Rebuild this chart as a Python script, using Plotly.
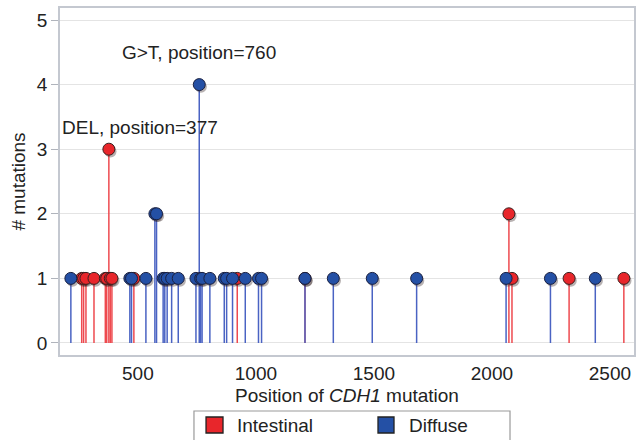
import plotly.graph_objects as go

# Intestinal (red) mutations: position, count
int_pos = [262, 270, 280, 314, 362, 368, 377, 383, 390, 483, 921, 1208, 2072, 2085, 2327, 2559]
int_cnt = [1, 1, 1, 1, 1, 1, 3, 1, 1, 1, 1, 1, 2, 1, 1, 1]

# Diffuse (blue) mutations: position, count
dif_pos = [216, 466, 473, 534, 572, 579, 607, 614, 624, 643, 671, 746, 760, 766, 772, 805,
           866, 876, 901, 955, 1011, 1024, 1208, 1328, 1493, 1681, 2060, 2248, 2438]
dif_cnt = [1, 1, 1, 1, 2, 2, 1, 1, 1, 1, 1, 1, 4, 1, 1, 1,
           1, 1, 1, 1, 1, 1, 1, 1, 1, 1, 1, 1, 1]

x_ticks = [500, 1000, 1500, 2000, 2500]
y_ticks = [0, 1, 2, 3, 4, 5]
legend_labels = ["Intestinal", "Diffuse"]

RED = "#e8262b"
RED_STEM = "#ee4a4f"
BLUE = "#2450a5"
BLUE_STEM = "#4a63c3"
FONT = "Liberation Sans, Arial, sans-serif"
FS = 19


def stems(xs, ys):
    sx, sy = [], []
    for x, y in zip(xs, ys):
        sx += [x, x, None]
        sy += [0, y, None]
    return sx, sy


fig = go.Figure()

for pos, cnt, col in [(int_pos, int_cnt, RED_STEM), (dif_pos, dif_cnt, BLUE_STEM)]:
    sx, sy = stems(pos, cnt)
    fig.add_trace(go.Scatter(x=sx, y=sy, mode="lines", line=dict(color=col, width=1.5),
                             showlegend=False, hoverinfo="skip"))

# marker shadows
all_pos = int_pos + dif_pos
all_cnt = int_cnt + dif_cnt
fig.add_trace(go.Scatter(x=[p + 7 for p in all_pos], y=[c - 0.035 for c in all_cnt], mode="markers",
                         marker=dict(size=12, color="rgba(40,20,20,0.33)", line=dict(width=0)),
                         showlegend=False, hoverinfo="skip"))

fig.add_trace(go.Scatter(x=int_pos, y=int_cnt, mode="markers", showlegend=False, name=legend_labels[0],
                         marker=dict(size=12, color=RED, line=dict(color="#3a2020", width=1))))
fig.add_trace(go.Scatter(x=dif_pos, y=dif_cnt, mode="markers", showlegend=False, name=legend_labels[1],
                         marker=dict(size=12, color=BLUE, line=dict(color="#1a2040", width=1))))

fig.add_annotation(x=760, y=4.5, text="G&gt;T, position=760", showarrow=False,
                   font=dict(size=FS, color="#222", family=FONT))
fig.add_annotation(x=508, y=3.34, text="DEL, position=377", showarrow=False,
                   font=dict(size=FS, color="#222", family=FONT))

# manual legend (boxed, below the x-axis title, clipped by the figure edge)
fig.add_shape(type="rect", xref="paper", yref="paper", x0=0.2334, x1=0.784, y0=-0.30, y1=-0.1614,
              line=dict(color="#9a9a9a", width=1.2), fillcolor="white", layer="above")
for (x0, x1), col, lab, tx in [((0.2544, 0.2840), RED, legend_labels[0], 0.3049),
                               ((0.554, 0.5819), BLUE, legend_labels[1], 0.6045)]:
    fig.add_shape(type="rect", xref="paper", yref="paper", x0=x0, x1=x1, y0=-0.2248, y1=-0.1787,
                  line=dict(color="#222", width=1.3), fillcolor=col, layer="above")
    fig.add_annotation(xref="paper", yref="paper", x=tx, y=-0.2046, xanchor="left", yanchor="middle",
                       text=lab, showarrow=False, font=dict(size=FS, color="#222", family=FONT))

fig.update_layout(
    width=637, height=440,
    margin=dict(l=60, r=3, t=8, b=85),
    paper_bgcolor="white", plot_bgcolor="white",
    font=dict(family=FONT, size=FS, color="#222"),
    showlegend=False,
    xaxis=dict(range=[170, 2602], tickvals=x_ticks, showgrid=False, zeroline=False, automargin=False,
               showline=True, linecolor="#c4c8d0", linewidth=1.5, mirror=True, ticks="",
               title=dict(text="Position of <i>CDH1</i> mutation", font=dict(size=FS), standoff=6),
               tickfont=dict(size=FS)),
    yaxis=dict(range=[-0.186, 5.186], tickvals=y_ticks, showgrid=True, gridcolor="#e4e4e4", automargin=False,
               zeroline=False, showline=True, linecolor="#c4c8d0", linewidth=1.5, mirror=True,
               ticks="outside", ticklen=7, tickcolor="#b0b4bc",
               title=dict(text="# mutations", font=dict(size=FS), standoff=6),
               tickfont=dict(size=FS)),
)

fig.write_html("out.html", config={"displayModeBar": False},
               post_script="document.body.style.margin='0';document.body.style.overflow='hidden';")
